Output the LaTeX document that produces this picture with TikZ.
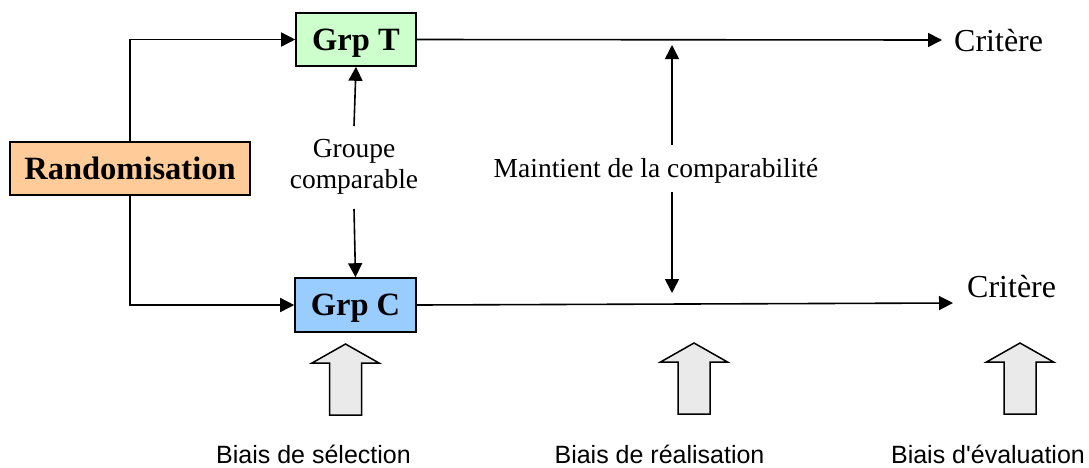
\documentclass[tikz,border=0pt]{standalone}
\usepackage{fontspec}
\setmainfont{Liberation Serif}
\newfontfamily\biaisfont{Liberation Sans}
\usetikzlibrary{arrows.meta}
\definecolor{orangebox}{RGB}{255,204,153}
\definecolor{greenbox}{RGB}{204,255,204}
\definecolor{bluebox}{RGB}{153,204,255}
\definecolor{arrowgray}{RGB}{234,234,234}
\tikzset{
  box/.style={draw=black, line width=1.6pt, inner sep=0pt, text depth=0pt, font=\fontsize{32.5}{38}\selectfont\bfseries},
  conn/.style={line width=1.6pt, -{Triangle[length=14pt,width=14pt]}},
  serifl/.style={inner sep=0pt, font=\fontsize{27.5}{31}\selectfont},
  crit/.style={inner sep=0pt, anchor=base west, font=\fontsize{32}{38}\selectfont},
  biais/.style={inner sep=0pt, anchor=base, font=\biaisfont\fontsize{25}{30}\selectfont},
  bigarrow/.pic={
    \filldraw[fill=arrowgray, draw=black, line width=1.5pt, line join=miter]
      (0,0) -- (33.5,19) -- (16,19) -- (16,71) -- (-16,71) -- (-16,19) -- (-33.5,19) -- cycle;
  }
}
\begin{document}
\begin{tikzpicture}[x=1pt,y=-1pt]
\useasboundingbox (0,0) rectangle (1089,467);

% boxes
\node[box, fill=orangebox, minimum width=240pt, minimum height=53pt] (rand) at (130,168.5) {Randomisation};
\node[box, fill=greenbox, minimum width=120pt, minimum height=53pt] (grpT) at (356,39.5) {Grp T};
\node[box, fill=bluebox, minimum width=121pt, minimum height=54pt] (grpC) at (355.5,305) {Grp C};

% randomisation connectors
\draw[conn] (rand.north) |- (grpT.west);
\draw[conn] (rand.south) |- (grpC.west);

% groupe comparable
\node[serifl, align=center, anchor=base] (gc) at (354,188) {Groupe\\comparable};
\coordinate (gcTop) at (354,126);
\coordinate (gcBot) at (354,209);
\draw[conn] (gcTop) -- (grpT.south);
\draw[conn] (gcBot) -- (grpC.north);

% criteres
\coordinate (tipT) at (942,40);
\coordinate (tipC) at (953,303);
\draw[conn] (grpT.east) -- (tipT);
\draw[conn] (grpC.east) -- (tipC);
\node[crit] (critT) at (954,51.5) {Critère};
\node[crit] (critC) at (967,297) {Critère};

% maintien
\node[serifl, anchor=base] (maint) at (656,177) {Maintient de la comparabilité};
\coordinate (mUpS) at (672,145);
\coordinate (mUpE) at (672,45);
\coordinate (mDnS) at (672,192);
\coordinate (mDnE) at (672,293);
\draw[conn] (mUpS) -- (mUpE);
\draw[conn] (mDnS) -- (mDnE);

% block arrows
\pic at (345.5,344) {bigarrow};
\pic at (694,343) {bigarrow};
\pic at (1020,343) {bigarrow};

% biais labels
\node[biais] (b1) at (313.5,463) {Biais de sélection};
\node[biais] (b2) at (659.5,463) {Biais de réalisation};
\node[biais] (b3) at (988,463) {Biais d'évaluation};
\end{tikzpicture}
\end{document}
